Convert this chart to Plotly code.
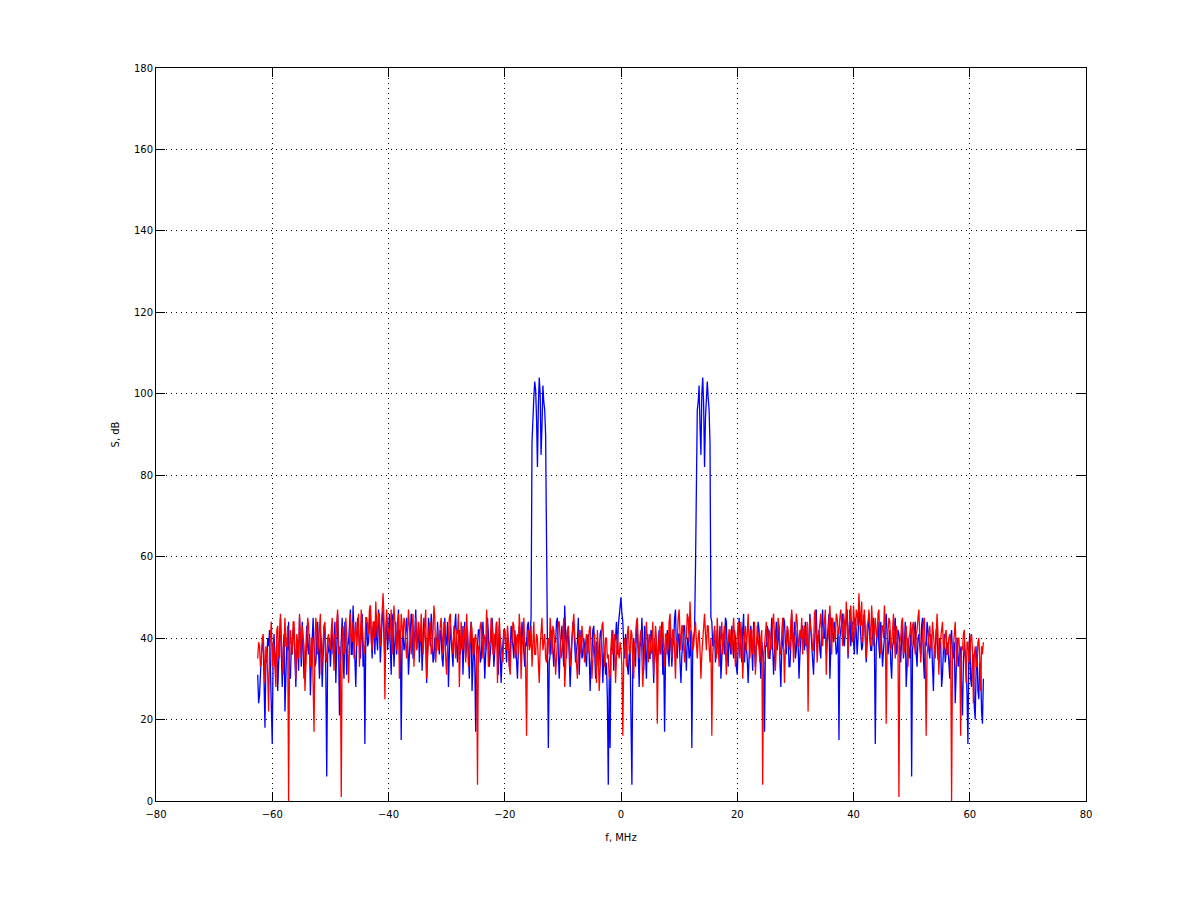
import numpy as np
import plotly.graph_objects as go

# spectrum bins: 800 bins starting at -62.5 MHz
f_start = -62.5
f_step = 0.15625

# blue trace, S in dB
s_blue = [
    31, 24, 26, 33, 36, 38, 40, 29, 18, 35, 34, 40, 38, 42, 29, 23, 14, 37, 41, 33, 35, 39, 27, 36, 40, 45, 33, 28, 37, 41, 22, 34, 39, 37, 44, 31, 30, 38, 36, 42,
    42, 35, 28, 39, 37, 32, 45, 40, 33, 44, 39, 30, 31, 36, 43, 38, 36, 41, 26, 34, 41, 45, 38, 33, 34, 40, 44, 37, 30, 42, 39, 28, 35, 43, 42, 31, 6, 36, 37, 40,
    33, 40, 43, 36, 38, 44, 29, 37, 46, 39, 21, 34, 40, 45, 35, 30, 44, 41, 31, 38, 39, 43, 47, 36, 36, 48, 42, 33, 28, 39, 45, 42, 38, 35, 41, 46, 33, 38, 14, 41,
    44, 38, 39, 45, 48, 41, 35, 43, 42, 36, 46, 40, 37, 47, 43, 34, 40, 45, 47, 39, 34, 42, 45, 37, 41, 46, 38, 31, 46, 43, 33, 40, 44, 36, 40, 47, 36, 42, 15, 39,
    42, 37, 38, 43, 45, 40, 31, 36, 40, 46, 44, 35, 36, 41, 47, 38, 39, 44, 34, 40, 43, 32, 37, 45, 41, 39, 29, 35, 45, 42, 38, 46, 42, 34, 35, 40, 40, 37, 44, 39,
    36, 42, 41, 35, 33, 39, 45, 38, 39, 44, 28, 36, 43, 40, 37, 33, 40, 45, 46, 38, 34, 41, 42, 36, 38, 43, 31, 39, 44, 35, 39, 42, 36, 30, 41, 44, 27, 37, 40, 34,
    17, 36, 38, 42, 42, 34, 35, 40, 44, 38, 30, 36, 39, 45, 41, 33, 36, 39, 45, 41, 33, 37, 40, 44, 37, 31, 43, 38, 29, 35, 38, 42, 42, 36, 34, 40, 40, 33, 36, 43,
    41, 38, 35, 42, 39, 34, 30, 37, 43, 40, 37, 44, 40, 36, 33, 39, 38, 43, 44, 38, 42, 45, 88, 96, 99, 103, 101, 94, 82, 97, 104, 100, 85, 92, 102, 98, 96, 90, 57, 40,
    13, 34, 36, 41, 42, 37, 33, 39, 39, 44, 45, 36, 30, 38, 40, 43, 37, 33, 48, 40, 35, 42, 41, 36, 28, 34, 38, 44, 43, 39, 34, 37, 39, 45, 31, 38, 42, 35, 36, 40,
    38, 35, 33, 40, 41, 36, 27, 34, 36, 42, 43, 37, 30, 39, 39, 33, 35, 41, 42, 38, 29, 36, 37, 31, 34, 25, 4, 30, 13, 37, 38, 42, 32, 39, 40, 44, 36, 43, 45, 47,
    50, 46, 44, 38, 35, 41, 39, 33, 31, 36, 37, 20, 4, 34, 40, 37, 33, 43, 42, 36, 28, 39, 38, 45, 36, 32, 43, 38, 30, 41, 39, 35, 35, 42, 41, 37, 29, 40, 37, 34,
    34, 39, 42, 36, 38, 44, 31, 37, 17, 35, 40, 42, 36, 33, 44, 39, 33, 38, 39, 45, 47, 37, 35, 41, 41, 34, 29, 36, 38, 43, 43, 37, 32, 40, 40, 35, 36, 42, 13, 38,
    40, 42, 57, 90, 96, 98, 102, 92, 85, 100, 104, 97, 82, 94, 101, 103, 99, 96, 88, 45, 44, 38, 39, 42, 34, 40, 42, 36, 37, 43, 30, 35, 41, 39, 36, 45, 44, 37, 33, 41,
    39, 36, 43, 40, 35, 42, 40, 33, 31, 38, 45, 41, 37, 34, 42, 46, 34, 39, 38, 35, 29, 37, 41, 43, 36, 32, 44, 40, 33, 38, 39, 44, 42, 36, 30, 39, 37, 34, 17, 38,
    38, 43, 42, 35, 35, 40, 45, 38, 31, 36, 40, 44, 37, 41, 43, 34, 28, 37, 39, 45, 44, 39, 36, 42, 41, 33, 33, 38, 46, 40, 38, 44, 35, 37, 42, 39, 30, 36, 40, 43,
    43, 39, 37, 44, 41, 36, 34, 40, 46, 42, 39, 35, 31, 38, 44, 47, 38, 41, 42, 37, 35, 43, 47, 40, 40, 45, 36, 39, 43, 46, 30, 37, 45, 41, 39, 44, 41, 36, 37, 42,
    15, 40, 42, 45, 46, 39, 38, 43, 44, 47, 35, 41, 47, 38, 41, 44, 39, 36, 45, 42, 36, 40, 48, 44, 42, 37, 38, 45, 46, 41, 34, 39, 43, 46, 40, 37, 37, 43, 45, 39,
    14, 38, 41, 44, 38, 35, 44, 40, 33, 37, 40, 45, 46, 41, 36, 39, 42, 34, 30, 38, 39, 43, 45, 36, 37, 42, 41, 38, 34, 40, 43, 35, 38, 44, 28, 33, 40, 37, 35, 41,
    6, 37, 39, 42, 44, 36, 33, 40, 41, 38, 36, 43, 45, 35, 30, 39, 38, 44, 42, 37, 35, 41, 40, 33, 27, 38, 37, 42, 43, 35, 34, 40, 39, 28, 31, 37, 41, 34, 36, 39,
    38, 33, 30, 40, 42, 36, 35, 39, 24, 31, 40, 35, 33, 38, 37, 28, 21, 34, 39, 36, 34, 26, 14, 37, 41, 30, 28, 35, 36, 23, 20, 32, 38, 27, 25, 34, 33, 22, 19, 30,
]

# red trace, S in dB
s_red = [
    35, 39, 38, 33, 34, 40, 41, 36, 29, 38, 36, 31, 22, 37, 40, 44, 33, 39, 37, 30, 28, 42, 43, 36, 35, 46, 39, 34, 31, 41, 45, 38, 38, 43, 0, 35, 42, 39, 36, 44,
    44, 37, 30, 41, 39, 35, 46, 40, 35, 43, 41, 38, 27, 34, 38, 45, 43, 36, 33, 40, 40, 29, 17, 38, 45, 42, 36, 39, 42, 46, 31, 37, 39, 43, 44, 35, 34, 40, 41, 38,
    37, 42, 45, 39, 32, 41, 40, 44, 47, 36, 38, 33, 1, 40, 43, 38, 36, 45, 41, 37, 29, 43, 46, 40, 39, 44, 35, 41, 44, 38, 42, 46, 33, 39, 47, 43, 40, 36, 38, 45,
    45, 42, 41, 47, 48, 39, 37, 44, 44, 40, 49, 43, 40, 46, 46, 38, 43, 48, 51, 45, 25, 41, 47, 43, 42, 39, 45, 47, 36, 42, 48, 44, 41, 37, 44, 46, 30, 40, 46, 43,
    40, 45, 44, 38, 35, 41, 47, 43, 39, 36, 42, 46, 33, 40, 45, 37, 38, 44, 41, 39, 46, 42, 36, 40, 43, 47, 30, 38, 40, 43, 44, 36, 37, 41, 48, 45, 34, 39, 42, 37,
    39, 43, 45, 40, 36, 44, 42, 35, 31, 38, 40, 45, 46, 41, 38, 36, 43, 39, 35, 42, 41, 46, 28, 37, 44, 40, 37, 43, 40, 34, 46, 41, 33, 38, 39, 44, 42, 36, 36, 40,
    41, 36, 4, 38, 38, 43, 44, 40, 35, 41, 40, 37, 47, 42, 33, 39, 39, 45, 43, 36, 36, 41, 41, 44, 29, 38, 45, 40, 38, 35, 34, 42, 42, 38, 37, 43, 40, 33, 31, 39,
    39, 44, 43, 37, 35, 40, 41, 36, 46, 42, 30, 38, 40, 45, 37, 33, 16, 39, 42, 37, 38, 43, 33, 40, 44, 36, 36, 41, 40, 34, 29, 38, 43, 45, 37, 40, 41, 35, 34, 39,
    40, 36, 45, 41, 36, 43, 42, 38, 31, 35, 39, 44, 44, 40, 35, 37, 41, 45, 28, 36, 38, 42, 43, 39, 33, 37, 40, 44, 46, 41, 37, 33, 30, 38, 42, 40, 36, 43, 39, 35,
    34, 39, 41, 36, 37, 42, 43, 38, 30, 35, 38, 41, 35, 29, 42, 37, 27, 34, 39, 43, 44, 38, 33, 40, 40, 35, 36, 30, 31, 38, 42, 36, 38, 41, 29, 34, 41, 37, 35, 39,
    37, 33, 16, 35, 40, 38, 33, 41, 43, 37, 36, 42, 41, 34, 30, 39, 39, 44, 45, 38, 35, 40, 42, 36, 28, 34, 38, 43, 44, 39, 34, 41, 40, 36, 37, 44, 31, 38, 43, 40,
    19, 37, 40, 43, 36, 39, 44, 38, 33, 41, 41, 36, 38, 44, 46, 40, 35, 42, 42, 37, 30, 39, 39, 45, 47, 41, 37, 43, 43, 38, 34, 40, 40, 46, 45, 39, 49, 42, 41, 37,
    38, 42, 44, 39, 35, 40, 42, 37, 30, 36, 40, 44, 46, 41, 37, 43, 43, 38, 34, 40, 16, 36, 41, 43, 38, 35, 45, 40, 33, 38, 40, 44, 36, 41, 43, 37, 31, 39, 39, 42,
    42, 38, 36, 41, 45, 39, 33, 37, 40, 44, 38, 35, 44, 40, 30, 38, 41, 43, 37, 41, 46, 39, 35, 42, 42, 36, 39, 44, 31, 37, 43, 40, 37, 34, 40, 42, 4, 36, 38, 41,
    44, 39, 35, 42, 41, 37, 38, 44, 46, 40, 32, 38, 40, 45, 43, 36, 36, 41, 45, 39, 29, 37, 39, 43, 42, 38, 37, 44, 47, 41, 34, 40, 41, 46, 44, 38, 38, 42, 40, 45,
    36, 41, 43, 38, 39, 44, 22, 40, 45, 42, 41, 37, 37, 46, 47, 41, 34, 39, 42, 45, 46, 40, 38, 43, 44, 47, 31, 39, 40, 44, 48, 42, 36, 45, 43, 40, 39, 46, 45, 42,
    41, 45, 47, 43, 38, 46, 44, 40, 49, 44, 36, 42, 45, 48, 42, 39, 48, 45, 40, 47, 46, 43, 51, 46, 43, 49, 39, 44, 47, 41, 35, 43, 44, 47, 41, 38, 48, 44, 38, 42,
    45, 41, 40, 46, 47, 39, 36, 43, 43, 40, 48, 44, 19, 38, 41, 45, 44, 37, 38, 42, 46, 40, 35, 43, 42, 38, 1, 39, 40, 44, 45, 36, 37, 41, 43, 38, 33, 40, 41, 44,
    38, 43, 44, 39, 36, 41, 42, 45, 47, 40, 34, 38, 40, 44, 45, 37, 16, 36, 39, 42, 43, 38, 37, 44, 41, 36, 35, 40, 46, 41, 31, 38, 40, 43, 44, 37, 38, 41, 42, 36,
    36, 40, 41, 38, 0, 35, 38, 43, 44, 37, 33, 40, 40, 36, 16, 38, 37, 41, 42, 35, 29, 39, 39, 34, 35, 40, 41, 37, 24, 36, 38, 33, 33, 39, 40, 35, 27, 38, 36, 39,
]

freq = f_start + f_step * np.arange(len(s_blue))

fig = go.Figure()

fig.add_trace(go.Scatter(
    x=freq, y=s_blue,
    mode='lines',
    line=dict(color='#0000ff', width=1.3),
    showlegend=False,
    hoverinfo='skip'
))

fig.add_trace(go.Scatter(
    x=freq, y=s_red,
    mode='lines',
    line=dict(color='#ff0000', width=1.3),
    showlegend=False,
    hoverinfo='skip'
))

axis_style = dict(
    showline=True, linecolor='black', linewidth=1, mirror='ticks',
    ticks='inside', ticklen=9, tickcolor='black', tickwidth=1,
    showgrid=True, gridcolor='black', gridwidth=1, griddash='1px,4px',
    zeroline=False,
    tickfont=dict(family='DejaVu Sans', size=10, color='black'),
)

fig.update_xaxes(
    range=[-80, 80], dtick=20, tick0=-80,
    ticklabelstandoff=4,
    title=dict(text='f, MHz', font=dict(family='DejaVu Sans', size=10, color='black'), standoff=14),
    **axis_style
)
fig.update_yaxes(
    range=[0, 180], dtick=20, tick0=0,
    title=dict(text='S, dB', font=dict(family='DejaVu Sans', size=10, color='black'), standoff=12),
    **axis_style
)

# page body adds an 8px offset, margins compensate for it
fig.update_layout(
    width=1200, height=901,
    margin=dict(l=148, r=122, t=60, b=108),
    paper_bgcolor='white',
    plot_bgcolor='white',
)

fig.write_html("out.html")
